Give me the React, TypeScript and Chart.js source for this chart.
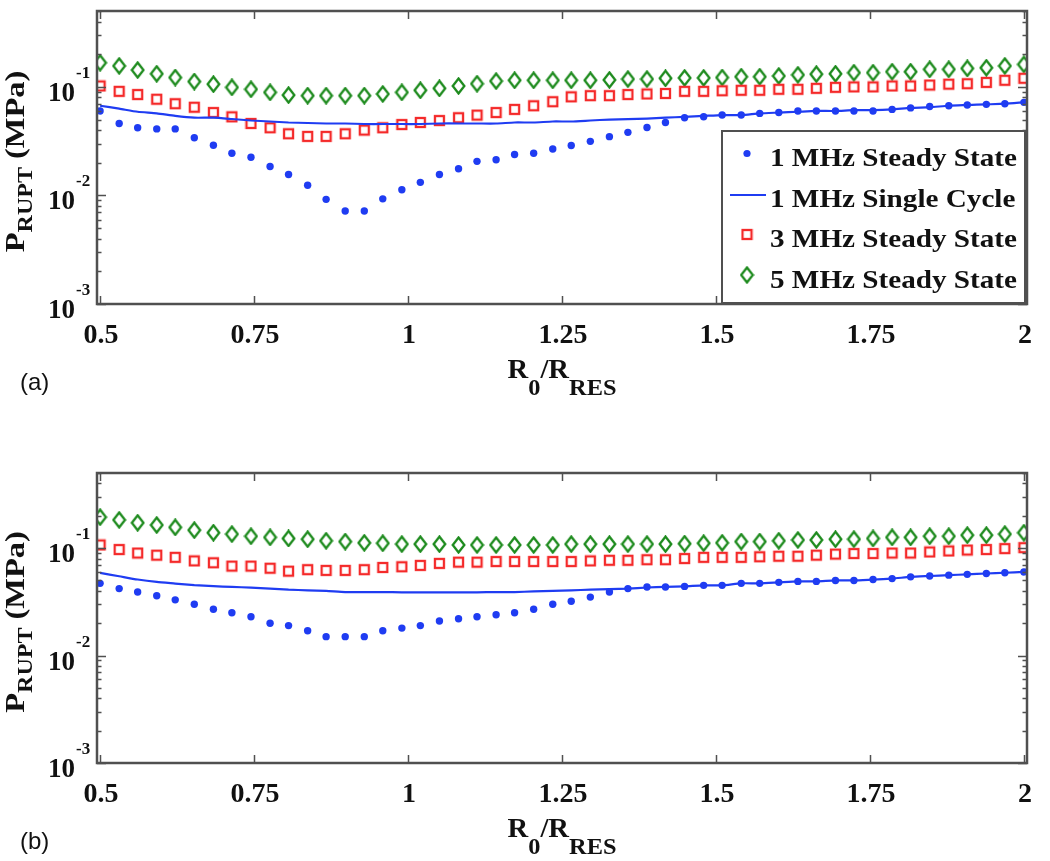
import React, { useEffect, useRef } from 'react';
import { Chart, registerables } from 'chart.js';

Chart.register(...registerables);

// ---- data ----
const R0_RRES = [
  0.5, 0.531, 0.561, 0.592, 0.622, 0.653, 0.684, 0.714, 0.745, 0.776,
  0.806, 0.837, 0.867, 0.898, 0.929, 0.959, 0.99, 1.02, 1.051, 1.082,
  1.112, 1.143, 1.173, 1.204, 1.235, 1.265, 1.296, 1.327, 1.357, 1.388,
  1.418, 1.449, 1.48, 1.51, 1.541, 1.571, 1.602, 1.633, 1.663, 1.694,
  1.724, 1.755, 1.786, 1.816, 1.847, 1.878, 1.908, 1.939, 1.969, 2.0,
];

const A_1MHZ_STEADY = [
  0.060, 0.046, 0.042, 0.041, 0.041, 0.034, 0.029, 0.0245, 0.0225, 0.0185,
  0.0156, 0.0124, 0.0092, 0.0072, 0.0072, 0.0093, 0.0113, 0.0132, 0.0156, 0.0176,
  0.0206, 0.0213, 0.0238, 0.0245, 0.0268, 0.0288, 0.0315, 0.0348, 0.0381, 0.0423,
  0.047, 0.052, 0.053, 0.055, 0.055, 0.057, 0.058, 0.060, 0.060, 0.060,
  0.060, 0.060, 0.062, 0.064, 0.066, 0.067, 0.068, 0.069, 0.070, 0.072,
];
const A_1MHZ_SINGLE = [
  0.067, 0.063, 0.059, 0.057, 0.054, 0.052, 0.052, 0.0506, 0.049, 0.048,
  0.047, 0.0465, 0.046, 0.046, 0.0455, 0.0455, 0.0455, 0.0455, 0.046, 0.046,
  0.046, 0.046, 0.047, 0.047, 0.048, 0.048, 0.049, 0.050, 0.0505, 0.051,
  0.052, 0.053, 0.054, 0.055, 0.055, 0.057, 0.058, 0.059, 0.060, 0.060,
  0.061, 0.061, 0.062, 0.064, 0.065, 0.067, 0.068, 0.069, 0.070, 0.072,
];
const A_3MHZ_STEADY = [
  0.102, 0.091, 0.085, 0.077, 0.070, 0.065, 0.058, 0.053, 0.046, 0.042,
  0.037, 0.035, 0.035, 0.037, 0.040, 0.042, 0.045, 0.047, 0.049, 0.052,
  0.055, 0.058, 0.062, 0.067, 0.073, 0.081, 0.083, 0.083, 0.085, 0.086,
  0.087, 0.091, 0.091, 0.092, 0.093, 0.093, 0.095, 0.095, 0.097, 0.099,
  0.100, 0.100, 0.102, 0.102, 0.104, 0.106, 0.107, 0.110, 0.115, 0.120,
];
const A_5MHZ_STEADY = [
  0.167, 0.156, 0.143, 0.132, 0.122, 0.112, 0.106, 0.099, 0.095, 0.089,
  0.084, 0.083, 0.083, 0.083, 0.083, 0.086, 0.089, 0.093, 0.097, 0.102,
  0.107, 0.113, 0.115, 0.115, 0.115, 0.115, 0.115, 0.116, 0.118, 0.118,
  0.120, 0.121, 0.121, 0.122, 0.124, 0.124, 0.126, 0.129, 0.131, 0.132,
  0.135, 0.135, 0.138, 0.138, 0.145, 0.145, 0.148, 0.150, 0.156, 0.161,
];

const B_1MHZ_STEADY = [
  0.047, 0.042, 0.039, 0.036, 0.033, 0.030, 0.027, 0.025, 0.023, 0.020,
  0.019, 0.017, 0.015, 0.015, 0.015, 0.017, 0.018, 0.019, 0.021, 0.022,
  0.023, 0.024, 0.025, 0.027, 0.030, 0.032, 0.035, 0.039, 0.042, 0.0435,
  0.0435, 0.044, 0.045, 0.045, 0.047, 0.047, 0.048, 0.049, 0.049, 0.050,
  0.050, 0.051, 0.052, 0.054, 0.055, 0.056, 0.057, 0.058, 0.059, 0.060,
];
const B_1MHZ_SINGLE = [
  0.0588, 0.0547, 0.051, 0.0484, 0.0468, 0.0452, 0.0442, 0.0435, 0.0429, 0.042,
  0.041, 0.0405, 0.040, 0.039, 0.039, 0.039, 0.0388, 0.0388, 0.0388, 0.0388,
  0.0388, 0.039, 0.039, 0.0395, 0.040, 0.0405, 0.041, 0.0415, 0.042, 0.043,
  0.0435, 0.044, 0.045, 0.045, 0.047, 0.047, 0.048, 0.049, 0.049, 0.050,
  0.050, 0.051, 0.052, 0.054, 0.055, 0.056, 0.057, 0.058, 0.059, 0.060,
];
const B_3MHZ_STEADY = [
  0.107, 0.097, 0.090, 0.086, 0.082, 0.076, 0.073, 0.068, 0.068, 0.065,
  0.061, 0.063, 0.062, 0.062, 0.063, 0.066, 0.067, 0.069, 0.072, 0.074,
  0.074, 0.075, 0.075, 0.075, 0.075, 0.075, 0.076, 0.077, 0.077, 0.078,
  0.078, 0.080, 0.082, 0.082, 0.082, 0.083, 0.084, 0.084, 0.086, 0.088,
  0.089, 0.089, 0.090, 0.090, 0.092, 0.094, 0.096, 0.097, 0.099, 0.101,
];
const B_5MHZ_STEADY = [
  0.194, 0.183, 0.172, 0.164, 0.156, 0.147, 0.139, 0.135, 0.129, 0.126,
  0.123, 0.121, 0.117, 0.115, 0.112, 0.111, 0.109, 0.109, 0.109, 0.107,
  0.107, 0.107, 0.107, 0.107, 0.107, 0.109, 0.109, 0.109, 0.109, 0.109,
  0.109, 0.110, 0.111, 0.112, 0.115, 0.115, 0.117, 0.119, 0.119, 0.121,
  0.121, 0.123, 0.126, 0.126, 0.129, 0.129, 0.132, 0.132, 0.135, 0.139,
];

const SERIES_NAMES = ['1 MHz Steady State', '1 MHz Single Cycle', '3 MHz Steady State', '5 MHz Steady State'];
const X_TICKS = [0.5, 0.75, 1, 1.25, 1.5, 1.75, 2];
const X_TICK_LABELS = ['0.5', '0.75', '1', '1.25', '1.5', '1.75', '2'];
const Y_DECADES = [1e-3, 1e-2, 1e-1];
const Y_DECADE_EXPONENTS = ['-3', '-2', '-1'];
const X_MIN = 0.495;
const X_MAX = 2.005;
const Y_MIN = 1e-3;
const Y_MAX = 0.5;

// ---- styles ----
const BLUE = '#1f3cf2';
const RED = '#f42a2a';
const GREEN = '#1c8a1c';
const FRAME = '#505050';
const TEXT = '#111111';
const SERIF = '"Liberation Serif", "Times New Roman", serif';

function makeDiamond(): HTMLCanvasElement {
  const c = document.createElement('canvas');
  c.width = 15;
  c.height = 18;
  const g = c.getContext('2d')!;
  g.strokeStyle = GREEN;
  g.lineWidth = 2.3;
  g.beginPath();
  g.moveTo(7.5, 1.5);
  g.lineTo(13.3, 9);
  g.lineTo(7.5, 16.5);
  g.lineTo(1.7, 9);
  g.closePath();
  g.stroke();
  return c;
}

function makeSquare(): HTMLCanvasElement {
  const c = document.createElement('canvas');
  c.width = 13;
  c.height = 13;
  const g = c.getContext('2d')!;
  g.strokeStyle = RED;
  g.lineWidth = 2.3;
  g.strokeRect(2, 2, 9, 9);
  return c;
}

const matlabAxes = {
  id: 'matlabAxes',
  afterDraw(chart: any, _args: any, opts: any) {
    const { ctx, chartArea: a, scales } = chart;
    const xs = scales.x;
    const ys = scales.y;
    ctx.save();

    // ticks (inward, all four sides)
    ctx.strokeStyle = FRAME;
    ctx.lineWidth = 1.5;
    ctx.beginPath();
    for (const v of X_TICKS) {
      const px = Math.round(xs.getPixelForValue(v)) + 0.5;
      ctx.moveTo(px, a.bottom);
      ctx.lineTo(px, a.bottom - 8);
      ctx.moveTo(px, a.top);
      ctx.lineTo(px, a.top + 8);
    }
    for (const d of Y_DECADES) {
      for (let m = 1; m <= 9; m++) {
        const v = m * d;
        if (v > Y_MAX * 1.0001) continue;
        const py = Math.round(ys.getPixelForValue(v)) + 0.5;
        const len = m === 1 ? 9 : 4.5;
        ctx.moveTo(a.left, py);
        ctx.lineTo(a.left + len, py);
        ctx.moveTo(a.right, py);
        ctx.lineTo(a.right - len, py);
      }
    }
    ctx.stroke();

    // frame
    ctx.lineWidth = 2.5;
    ctx.strokeRect(a.left, a.top, a.right - a.left, a.bottom - a.top);

    ctx.fillStyle = TEXT;
    ctx.textBaseline = 'alphabetic';

    // x tick labels
    ctx.font = `bold 28px ${SERIF}`;
    ctx.textAlign = 'center';
    X_TICKS.forEach((v, i) => {
      ctx.fillText(X_TICK_LABELS[i], xs.getPixelForValue(v) + 1, a.bottom + 39);
    });

    // y tick labels 10^n
    Y_DECADES.forEach((v, i) => {
      const py = ys.getPixelForValue(v);
      ctx.font = `bold 27px ${SERIF}`;
      ctx.textAlign = 'right';
      ctx.fillText('10', 75, py + 14);
      ctx.font = `bold 17px ${SERIF}`;
      ctx.textAlign = 'left';
      ctx.fillText(Y_DECADE_EXPONENTS[i], 76, py - 9);
    });

    // x title R0/RRES
    const fMain = `bold 27px ${SERIF}`;
    const fSub = `bold 23px ${SERIF}`;
    const parts: [string, boolean][] = [['R', false], ['0', true], ['/R', false], ['RES', true]];
    let total = 0;
    const widths = parts.map(([t, sub]) => {
      ctx.font = sub ? fSub : fMain;
      const w = ctx.measureText(t).width;
      total += w;
      return w;
    });
    const sx = 1.06;
    let xx = (a.left + a.right) / 2 - (total * sx) / 2;
    const tb = a.bottom + 74;
    ctx.textAlign = 'left';
    parts.forEach(([t, sub], i) => {
      ctx.font = sub ? fSub : fMain;
      ctx.save();
      ctx.translate(xx, sub ? tb + 17 : tb);
      ctx.scale(sx, 1);
      ctx.fillText(t, 0, 0);
      ctx.restore();
      xx += widths[i] * sx;
    });

    // y title P_RUPT (MPa)
    {
      const cy = (a.top + a.bottom) / 2 + 4;
      ctx.save();
      ctx.translate(24, cy);
      ctx.rotate(-Math.PI / 2);
      ctx.scale(1.2, 1);
      const ySub = `bold 20px ${SERIF}`;
      ctx.font = fMain;
      const wP = ctx.measureText('P').width;
      ctx.font = ySub;
      const wS = ctx.measureText('RUPT').width;
      ctx.font = fMain;
      const wR = ctx.measureText(' (MPa)').width;
      let x0 = -(wP + wS + wR) / 2;
      ctx.font = fMain;
      ctx.fillText('P', x0, 0);
      x0 += wP;
      ctx.font = ySub;
      ctx.fillText('RUPT', x0, 8);
      x0 += wS;
      ctx.font = fMain;
      ctx.fillText(' (MPa)', x0, 0);
      ctx.restore();
    }

    // panel label
    ctx.font = '24px "Liberation Sans", Arial, sans-serif';
    ctx.textAlign = 'left';
    ctx.fillText(opts.panelLabel, 20, a.bottom + 86);

    // legend
    if (opts.legend) {
      const L = 722, T = 131, R = 1025, B = 303;
      ctx.fillStyle = '#ffffff';
      ctx.fillRect(L, T, R - L, B - T);
      ctx.strokeStyle = FRAME;
      ctx.lineWidth = 2;
      ctx.strokeRect(L, T, R - L, B - T);
      ctx.font = `bold 26px ${SERIF}`;
      const w0 = ctx.measureText(SERIES_NAMES[0]).width;
      const lsx = 247 / w0;
      const baselines = [166, 206.5, 247, 287.5];
      const mx = 747;
      SERIES_NAMES.forEach((name, i) => {
        const bl = baselines[i];
        const my = bl - 12.5;
        if (i === 0) {
          ctx.fillStyle = BLUE;
          ctx.beginPath();
          ctx.arc(mx, my, 3.6, 0, Math.PI * 2);
          ctx.fill();
        } else if (i === 1) {
          ctx.strokeStyle = BLUE;
          ctx.lineWidth = 2.2;
          ctx.beginPath();
          ctx.moveTo(730, my + 1);
          ctx.lineTo(766, my + 1);
          ctx.stroke();
        } else {
          const img = (i === 2 ? opts.square : opts.diamond) as HTMLCanvasElement;
          ctx.drawImage(img, mx - img.width / 2, my - img.height / 2);
        }
        ctx.fillStyle = TEXT;
        ctx.font = `bold 26px ${SERIF}`;
        ctx.save();
        ctx.translate(770, bl);
        ctx.scale(lsx, 1);
        ctx.fillText(name, 0, 0);
        ctx.restore();
      });
    }
    ctx.restore();
  },
};

type PanelProps = {
  top: number;
  height: number;
  padTop: number;
  padBottom: number;
  steady1: number[];
  single1: number[];
  steady3: number[];
  steady5: number[];
  panelLabel: string;
  legend: boolean;
};

function Panel(p: PanelProps) {
  const ref = useRef<HTMLCanvasElement>(null);
  useEffect(() => {
    const diamond = makeDiamond();
    const square = makeSquare();
    const pts = (arr: number[]) => R0_RRES.map((x, i) => ({ x, y: arr[i] }));
    const chart = new Chart(ref.current!, {
      type: 'line',
      data: {
        datasets: [
          {
            label: SERIES_NAMES[0],
            data: pts(p.steady1),
            showLine: false,
            pointStyle: 'circle',
            pointRadius: 3.7,
            pointBackgroundColor: BLUE,
            pointBorderWidth: 0,
            borderColor: BLUE,
          },
          {
            label: SERIES_NAMES[1],
            data: pts(p.single1),
            showLine: true,
            pointRadius: 0,
            borderColor: BLUE,
            borderWidth: 2.2,
            tension: 0.2,
            fill: false,
          },
          {
            label: SERIES_NAMES[2],
            data: pts(p.steady3),
            showLine: false,
            pointStyle: square as any,
            pointRadius: 6,
            borderColor: RED,
          },
          {
            label: SERIES_NAMES[3],
            data: pts(p.steady5),
            showLine: false,
            pointStyle: diamond as any,
            pointRadius: 7,
            borderColor: GREEN,
          },
        ],
      },
      options: {
        animation: false,
        responsive: false,
        devicePixelRatio: 1,
        events: [],
        layout: { padding: { left: 97, right: 23, top: p.padTop, bottom: p.padBottom } },
        scales: {
          x: { type: 'linear', min: X_MIN, max: X_MAX, display: false },
          y: { type: 'logarithmic', min: Y_MIN, max: Y_MAX, display: false },
        },
        plugins: {
          legend: { display: false },
          tooltip: { enabled: false },
          matlabAxes: { panelLabel: p.panelLabel, legend: p.legend, diamond, square },
        } as any,
      },
      plugins: [matlabAxes as any],
    } as any);
    return () => chart.destroy();
  }, []);
  return (
    <canvas
      ref={ref}
      width={1050}
      height={p.height}
      style={{ position: 'absolute', left: 0, top: p.top, width: 1050, height: p.height }}
    />
  );
}

export default function App() {
  return (
    <div style={{ position: 'absolute', left: 0, top: 0, width: 1050, height: 861, background: '#ffffff', overflow: 'hidden' }}>
      <Panel
        top={0}
        height={430}
        padTop={11}
        padBottom={126}
        steady1={A_1MHZ_STEADY}
        single1={A_1MHZ_SINGLE}
        steady3={A_3MHZ_STEADY}
        steady5={A_5MHZ_STEADY}
        panelLabel="(a)"
        legend={true}
      />
      <Panel
        top={430}
        height={431}
        padTop={43}
        padBottom={98}
        steady1={B_1MHZ_STEADY}
        single1={B_1MHZ_SINGLE}
        steady3={B_3MHZ_STEADY}
        steady5={B_5MHZ_STEADY}
        panelLabel="(b)"
        legend={false}
      />
    </div>
  );
}
